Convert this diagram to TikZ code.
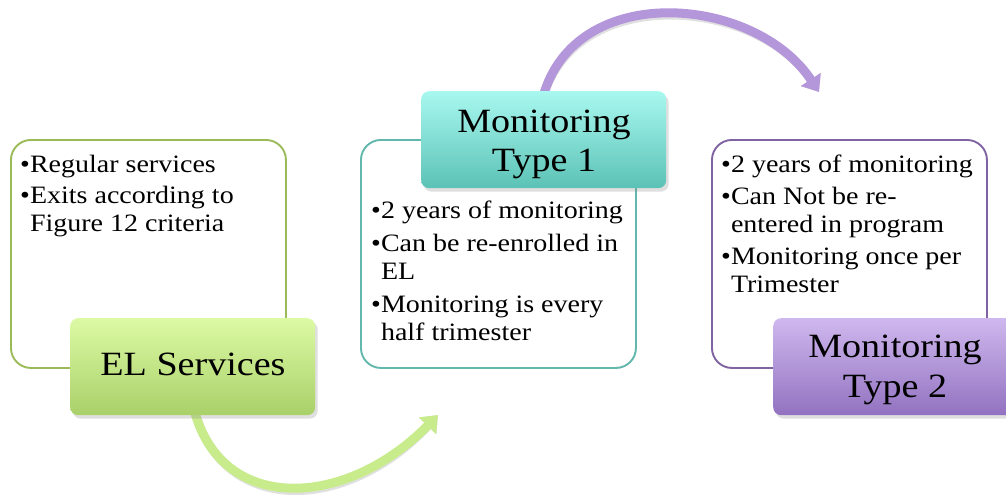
\documentclass[tikz,border=0pt]{standalone}
\usepackage{fontspec}
\setmainfont[FakeStretch=1.12]{Liberation Serif}
\usetikzlibrary{arrows.meta,shadows}
\definecolor{gline}{HTML}{9BBB59}
\definecolor{tline}{HTML}{63B8AD}
\definecolor{pline}{HTML}{8064A2}
\definecolor{gtop}{HTML}{DCFAA4}
\definecolor{gbot}{HTML}{A9D069}
\definecolor{ttop}{HTML}{A8F8EF}
\definecolor{tbot}{HTML}{5CC2B6}
\definecolor{ptop}{HTML}{CFB8EE}
\definecolor{pbot}{HTML}{9272C0}
\definecolor{garrow}{HTML}{C8EC8C}
\definecolor{parrow}{HTML}{B497DB}
\begin{document}
\begin{tikzpicture}[x=1pt,y=-1pt,
  outline/.style={draw, line width=1.9pt, rounded corners=20pt, fill=white,
    anchor=north west, inner sep=0pt, minimum width=275pt, minimum height=228pt},
  titlebox/.style={rounded corners=8pt, anchor=north west, inner sep=0pt,
    minimum width=245pt, minimum height=97pt,
    drop shadow={shadow xshift=2.5pt, shadow yshift=-3.5pt, opacity=0.25}},
  bul/.style={anchor=base west, inner sep=0pt, font=\fontsize{25}{28}\selectfont},
  ttl/.style={anchor=base, inner sep=0pt, font=\fontsize{34}{40}\selectfont},
  flow/.style={line width=9pt, -{Triangle[width=23pt,length=15pt]}},
  flowshadow/.style={flow, draw=black, opacity=0.12}
]
\useasboundingbox (0,0) rectangle (1006,495);
\clip (0,0) rectangle (1006,495);

% outline boxes
\node[outline, draw=gline] (b1) at (10,139) {};
\node[outline, draw=tline] (b2) at (360,139) {};
\node[outline, draw=pline] (b3) at (711,139) {};

% arrow end points
\coordinate (gend) at (438,415);
\coordinate (pend) at (819,92);
\coordinate (gstart) at (193,405);
\coordinate (pstart) at (543,97);

% arrows (shadow + body)
\draw[flowshadow, shift={(2,3)}] (gstart) .. controls (218,515) and (345,510) .. (gend);
\draw[flow, draw=garrow] (gstart) .. controls (218,515) and (345,510) .. (gend);
\draw[flowshadow, shift={(2,3)}] (pstart) .. controls (575,-20) and (755,-5) .. (pend);
\draw[flow, draw=parrow] (pstart) .. controls (575,-20) and (755,-5) .. (pend);

% title boxes
\node[titlebox, top color=gtop, bottom color=gbot] (el) at (70,318) {};
\node[titlebox, top color=ttop, bottom color=tbot] (m1) at (421,91) {};
\node[titlebox, top color=ptop, bottom color=pbot] (m2) at (773,318) {};

% title texts
\node[ttl] (elt) at (193,375) {EL Services};
\node[ttl] (m1a) at (544,132) {Monitoring};
\node[ttl] (m1b) at (544,171) {Type 1};
\node[ttl] (m2a) at (895,357) {Monitoring};
\node[ttl] (m2b) at (895,397) {Type 2};

% box 1 texts
\node[bul] (a1) at (20,172) {\textbullet Regular services};
\node[bul] (a2) at (20,203.5) {\textbullet Exits according to};
\node[bul] (a3) at (20,231.5) {\phantom{\textbullet}Figure 12 criteria};

% box 2 texts
\node[bul] (c1) at (371,218) {\textbullet 2 years of monitoring};
\node[bul] (c2) at (371,251) {\textbullet Can be re-enrolled in};
\node[bul] (c3) at (371,279) {\phantom{\textbullet}EL};
\node[bul] (c4) at (371,312) {\textbullet Monitoring is every};
\node[bul] (c5) at (371,340) {\phantom{\textbullet}half trimester};

% box 3 texts
\node[bul] (d1) at (721,172) {\textbullet 2 years of monitoring};
\node[bul] (d2) at (721,204) {\textbullet Can Not be re-};
\node[bul] (d3) at (721,232) {\phantom{\textbullet}entered in program};
\node[bul] (d4) at (721,264) {\textbullet Monitoring once per};
\node[bul] (d5) at (721,292) {\phantom{\textbullet}Trimester};
\end{tikzpicture}
\end{document}
